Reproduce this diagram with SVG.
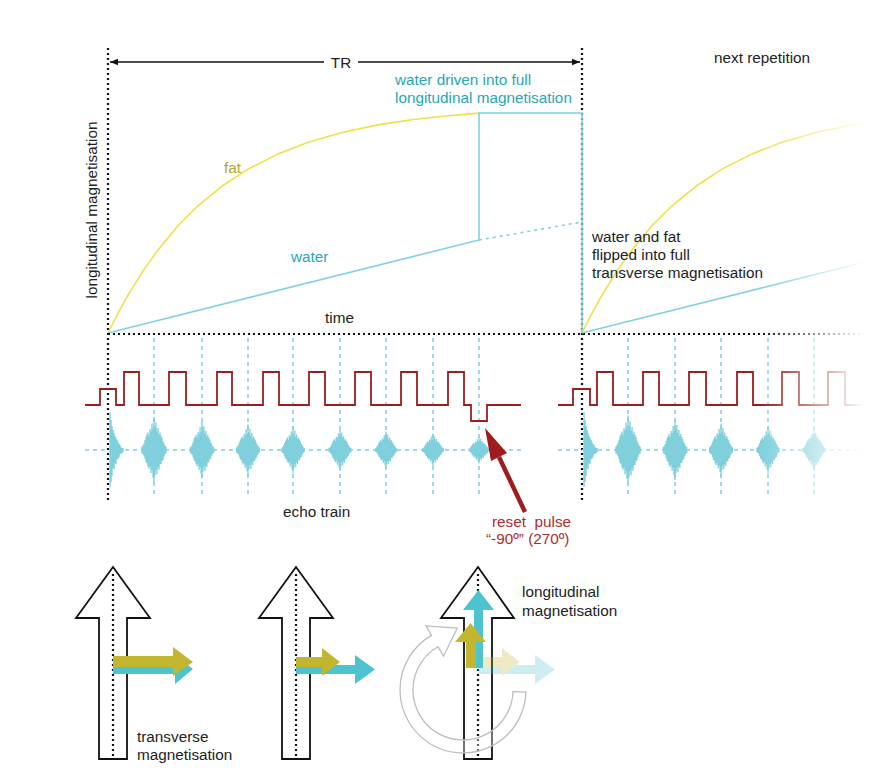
<svg xmlns="http://www.w3.org/2000/svg" width="885" height="775" viewBox="0 0 885 775">
<style>
text{font-family:"Liberation Sans",Arial,sans-serif;font-size:15.3px;fill:#222}
.teal{fill:#27a7b4}
.olive{fill:#b3a52d}
.red{fill:#b22a2a}
.bdot{stroke:#111;stroke-width:2.2;stroke-dasharray:2 3;fill:none}
.cdash{stroke:#7fd0e0;stroke-width:1.5;stroke-dasharray:4 4;fill:none}
.fat{stroke:#f0e048;stroke-width:1.6;fill:none}
.water{stroke:#7fd2e0;stroke-width:1.6;fill:none}
.pulse{stroke:#9b1d1d;stroke-width:1.8;fill:none;stroke-linejoin:miter}
.big{fill:#fff;stroke:#111;stroke-width:1.8;stroke-linejoin:miter}
.ol{fill:#c2b630}
.cy{fill:#4cc3cf}
</style>
<defs>
<marker id="ah" viewBox="0 0 10 10" refX="10" refY="5" markerWidth="8" markerHeight="8" markerUnits="userSpaceOnUse" orient="auto-start-reverse">
<path d="M0,1 L10,5 L0,9 Z" fill="#111"/>
</marker>
<g id="echo">
<path d="M-12,-3V3 M-11,-4V4 M-10,-6V5 M-9,-9V8 M-8,-12V11 M-7,-14V12 M-6,-16V15 M-5,-13V17 M-4,-19V15 M-3,-17V21 M-2,-24V18 M-1,-19V25 M0,-30V30 M1,-21V23 M2,-25V18 M3,-17V22 M4,-20V16 M5,-14V18 M6,-16V13 M7,-13V13 M8,-11V10 M9,-8V9 M10,-6V6 M11,-4V4 M12,-3V3" stroke="#7fd0dc" stroke-width="1.4" fill="none"/>
</g>
<g id="fid">
<path d="M0,-38V37 M1,-30V32 M2,-24V26 M3,-20V18 M4,-17V19 M5,-14V13 M6,-12V14 M7,-10V9 M8,-8V9 M9,-6V7 M10,-5V4 M11,-3V4 M12,-2V3 M13,-2V2" stroke="#7fd0dc" stroke-width="1.4" fill="none"/>
</g>
<linearGradient id="fg" gradientUnits="userSpaceOnUse" x1="760" y1="0" x2="865" y2="0">
<stop offset="0" stop-color="#fff"/>
<stop offset="1" stop-color="#000"/>
</linearGradient>
<mask id="fade" maskUnits="userSpaceOnUse" x="0" y="0" width="885" height="775">
<rect x="0" y="0" width="885" height="775" fill="url(#fg)"/>
</mask>
</defs>
<rect width="885" height="775" fill="#fff"/>

<g id="grid">
<line class="bdot" x1="108" y1="48" x2="108" y2="500"/>
<line class="bdot" x1="582" y1="48" x2="582" y2="500"/>
<g class="cdash">
<line x1="154" y1="338" x2="154" y2="497"/>
<line x1="202" y1="338" x2="202" y2="497"/>
<line x1="248" y1="338" x2="248" y2="497"/>
<line x1="293" y1="338" x2="293" y2="497"/>
<line x1="340" y1="338" x2="340" y2="497"/>
<line x1="386" y1="338" x2="386" y2="497"/>
<line x1="433" y1="338" x2="433" y2="497"/>
<line x1="479" y1="338" x2="479" y2="497"/>
<line x1="85" y1="450" x2="521" y2="450"/>
</g>
</g>

<g id="curves-first">
<path class="fat" d="M108,333 L118,313.2 L128,295.2 L143,270.9 L158,249.9 L178,225.8 L198,205.8 L223,185.5 L248,169.1 L278,153.9 L308,142.2 L343,132.2 L378,124.9 L413,119.5 L448,115.7 L479,113.1"/>
<path class="water" d="M108,333 L479,240 V113 H582 V333"/>
<path d="M479,240 L582,222" stroke="#7fd2e0" stroke-width="1.6" stroke-dasharray="3 4" fill="none"/>
</g>

<g id="next-repetition" mask="url(#fade)">
<line class="bdot" x1="108" y1="334" x2="870" y2="334"/>
<path class="fat" d="M582,333 L592,313.2 L602,295.2 L617,270.9 L632,249.9 L652,225.8 L672,205.8 L697,185.5 L722,169.1 L752,153.9 L782,142.2 L817,132.2 L852,124.9 L887,119.5"/>
<path class="water" d="M582,333 L870,260.8"/>
<g class="cdash">
<line x1="628" y1="338" x2="628" y2="497"/>
<line x1="675" y1="338" x2="675" y2="497"/>
<line x1="721" y1="338" x2="721" y2="497"/>
<line x1="768" y1="338" x2="768" y2="497"/>
<line x1="814" y1="338" x2="814" y2="497"/>
<line x1="558" y1="450" x2="870" y2="450"/>
</g>
<path class="pulse" d="M558,405 H573 V389 H590 V405 H597 V372 H613 V405 H643 V372 H659 V405 H689 V372 H706 V405 H737 V372 H753 V405 H782 V372 H799 V405 H828 V372 H845 V405 H870"/>
<use href="#fid" transform="translate(584,450)"/>
<use href="#echo" transform="translate(628,450) scale(1,1.15)"/>
<use href="#echo" transform="translate(675,450) scale(0.97,1.0)"/>
<use href="#echo" transform="translate(721,450) scale(0.95,0.88)"/>
<use href="#echo" transform="translate(768,450) scale(0.92,0.78)"/>
<use href="#echo" transform="translate(814,450) scale(0.9,0.68)"/>
</g>

<g id="pulse-train">
<path class="pulse" d="M85,405 H100 V389 H116 V405 H124 V372 H139 V405 H169 V372 H186 V405 H217 V372 H232 V405 H263 V372 H279 V405 H309 V372 H325 V405 H355 V372 H371 V405 H401 V372 H417 V405 H448 V372 H464 V405 H471 V421 H487 V405 H521"/>
</g>

<g id="echo-train">
<use href="#fid" transform="translate(110,450)"/>
<use href="#echo" transform="translate(154,450) scale(1,1.1)"/>
<use href="#echo" transform="translate(202,450) scale(0.97,0.95)"/>
<use href="#echo" transform="translate(248,450) scale(0.95,0.85)"/>
<use href="#echo" transform="translate(293,450) scale(0.92,0.78)"/>
<use href="#echo" transform="translate(340,450) scale(0.9,0.7)"/>
<use href="#echo" transform="translate(386,450) scale(0.88,0.62)"/>
<use href="#echo" transform="translate(433,450) scale(0.86,0.55)"/>
<use href="#echo" transform="translate(479,450) scale(0.84,0.45)"/>
</g>

<g id="connectors">
<line x1="110" y1="62" x2="580" y2="62" stroke="#111" stroke-width="1.6" marker-start="url(#ah)" marker-end="url(#ah)"/>
<rect x="324" y="52" width="34" height="20" fill="#fff"/>
<line x1="525" y1="512" x2="499" y2="457" stroke="#a01c1c" stroke-width="4.5"/>
<polygon points="485,428 507,453 491,461" fill="#a01c1c"/>
</g>

<g id="labels-top">
<text x="341" y="68" text-anchor="middle" font-size="17">TR</text>
<text class="teal" x="395" y="85">water driven into full</text>
<text class="teal" x="395" y="103">longitudinal magnetisation</text>
<text x="714" y="63">next repetition</text>
<text class="olive" x="224" y="173">fat</text>
<text class="teal" x="291" y="262">water</text>
<text x="325" y="323">time</text>
<text x="97" y="210" text-anchor="middle" transform="rotate(-90 97 210)">longitudinal magnetisation</text>
<text x="592" y="242">water and fat</text>
<text x="592" y="260">flipped into full</text>
<text x="592" y="278">transverse magnetisation</text>
<text x="283" y="517">echo train</text>
<text class="red" x="492" y="527" style="white-space:pre">reset  pulse</text>
<text class="red" x="486" y="544">“-90º” (270º)</text>
</g>

<g id="state-1">
<polygon class="big" points="113,567 150,618 127,618 127,759 99,759 99,618 76,618"/>
<line class="bdot" x1="113" y1="574" x2="113" y2="759"/>
<polygon class="cy" points="113,664 175,664 175,655 193,669 175,684 175,674 113,674"/>
<polygon class="ol" points="113,656 173,656 173,647 193,662 173,676 173,667 113,667"/>
<text x="137" y="742">transverse</text>
<text x="137" y="760">magnetisation</text>
</g>

<g id="state-2">
<polygon class="big" points="296,567 333,618 310,618 310,759 282,759 282,618 259,618"/>
<line class="bdot" x1="296" y1="574" x2="296" y2="759"/>
<polygon class="cy" points="296,665 355,665 355,655 375,669.5 355,684 355,674 296,674"/>
<polygon class="ol" points="296,657 322,657 322,648 340,662 322,676 322,667 296,667"/>
</g>

<g id="state-3">
<polygon class="big" points="478,567 514,618 492,618 492,759 464,759 464,618 441,618"/>
<line class="bdot" x1="478" y1="574" x2="478" y2="759"/>
<g opacity="0.28">
<polygon class="cy" points="478,665 535,665 535,655 555,669.5 535,684 535,674 478,674"/>
<polygon class="ol" points="478,657 502,657 502,648 520,662 502,676 502,667 478,667"/>
</g>
<path d="M525.96,692.2 A63,63 0 1 1 431.5,635.4 L426,625.9 L457.3,628.1 L443.5,656.2 L438,646.7 A50,50 0 1 0 512.97,691.7 Z" fill="#fff" fill-opacity="0.35" stroke="#bdbdbd" stroke-width="1.3"/>
<polygon class="cy" points="474,668 474,610 463,610 478.5,590 494,610 483,610 483,668"/>
<polygon class="ol" points="466,668 466,642 455,642 470.5,623 486,642 476,642 476,668"/>
<text x="522" y="597">longitudinal</text>
<text x="522" y="616">magnetisation</text>
</g>
</svg>
